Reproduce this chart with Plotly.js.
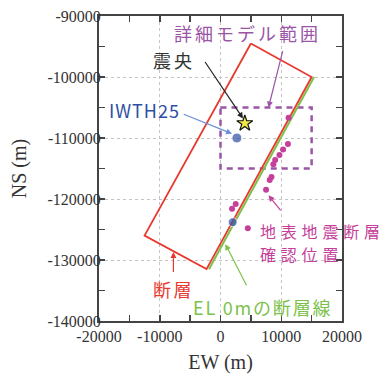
<!DOCTYPE html>
<html>
<head>
<meta charset="utf-8">
<script src="https://cdn.plot.ly/plotly-3.0.1.min.js"></script>
<style>
html,body{margin:0;padding:0;background:#fff;}
#chart{width:385px;height:374px;}
</style>
</head>
<body>
<div id="chart"></div>
<script>
// ---- data ----
const faultX = [5000, 15000, -2300, -12500, 5000];
const faultY = [-94500, -100000, -131500, -126000, -94500];

const el0X = [15400, -1900];
const el0Y = [-100000, -131500];

const modelBoxX = [0, 15000, 15000, 0, 0];
const modelBoxY = [-105000, -105000, -115000, -115000, -105000];

const ruptureX = [11200, 11100, 10300, 9700, 9000, 8700, 8400, 8100, 7500, 2500, 1900, 4500];
const ruptureY = [-106700, -111000, -111900, -112800, -113600, -114300, -116400, -116900, -118500, -120800, -121600, -124800];

const stationX = [2700, 2000];
const stationY = [-110000, -123800];

const epicenterX = [4000];
const epicenterY = [-107600];

const xTickVals = [-20000, -10000, 0, 10000, 20000];
const xTickText = ["-20000", "-10000", "0", "10000", "20000"];
const yTickVals = [-90000, -100000, -110000, -120000, -130000, -140000];
const yTickText = ["-90000", "-100000", "-110000", "-120000", "-130000", "-140000"];

const labels = {
  model: "詳細モデル範囲",
  epicenter: "震央",
  station: "IWTH25",
  rupture1: "地表地震断層",
  rupture2: "確認位置",
  fault: "断層",
  el0: "EL 0mの断層線",
  xTitle: "EW (m)",
  yTitle: "NS (m)"
};

// ---- colours ----
const RED = "#e8392f", GREEN = "#7cc24a", PURPLE = "#9a55a6", MAGENTA = "#c4409a",
      BLUE = "#2f4fa6", LBLUE = "#6d8fd6", DARK = "#333333";
const CJK = "Noto Sans CJK JP, Noto Sans, sans-serif";
const SERIF = "Liberation Serif, Times New Roman, serif";

const traces = [
  {x: modelBoxX, y: modelBoxY, mode: "lines", line: {color: PURPLE, width: 2.5, dash: "6px,5px"}, hoverinfo: "skip"},
  {x: el0X, y: el0Y, mode: "lines", line: {color: GREEN, width: 2}, hoverinfo: "skip"},
  {x: faultX, y: faultY, mode: "lines", line: {color: RED, width: 1.8}, hoverinfo: "skip"},
  {x: ruptureX, y: ruptureY, mode: "markers", marker: {color: MAGENTA, size: 6}, hoverinfo: "skip"},
  {x: stationX, y: stationY, mode: "markers", marker: {color: BLUE, size: [10, 9]}, hoverinfo: "skip"},
  {x: epicenterX, y: epicenterY, mode: "markers", marker: {symbol: "star", color: "#f3e84a", size: 12, line: {color: "#111", width: 1.2}}, hoverinfo: "skip"}
];

function arrow(hx, hy, tx, ty, color) {
  return {x: hx, y: hy, ax: tx, ay: ty, xref: "x", yref: "y", axref: "x", ayref: "y",
          text: "", showarrow: true, arrowhead: 2, arrowsize: 1, arrowwidth: 1.2, arrowcolor: color};
}
function label(x, y, text, color, size) {
  return {x: x, y: y, xref: "x", yref: "y", text: text, showarrow: false, align: "left",
          xanchor: "left", yanchor: "middle", borderpad: 0,
          font: {family: CJK, size: size, color: color}};
}

const labelDefs = [
  label(-7750, -92840, labels.model, PURPLE, 18),
  label(-11200, -97260, labels.epicenter, DARK, 18),
  label(-18480, -105450, labels.station, BLUE, 18),
  label(6280, -125200, labels.rupture1, MAGENTA, 16),
  label(6280, -129080, labels.rupture2, MAGENTA, 16),
  label(-11200, -134690, labels.fault, RED, 18),
  label(-4640, -137700, labels.el0, GREEN, 18)
];
const spacings = [3, 3, 1, 4.8, 4.8, 2.5, 1.8];

const annotations = [
  arrow(7900, -105000, 10300, -95500, PURPLE),
  arrow(3700, -106800, -2700, -97300, "#222"),
  arrow(1900, -109300, -6300, -106000, LBLUE),
  arrow(7900, -119400, 10100, -122100, MAGENTA),
  arrow(-7750, -128700, -7750, -132200, RED),
  arrow(800, -127400, 4400, -134400, GREEN)
].concat(labelDefs);
const nArrows = 6;

const axisCommon = {
  showline: true, linecolor: "#444", linewidth: 2, mirror: "ticks",
  ticks: "inside", ticklen: 6, tickwidth: 1.5, tickcolor: "#444",
  showgrid: true, gridcolor: "#c4c4c4", griddash: "dot", gridwidth: 1,
  zeroline: false, tickfont: {family: SERIF, size: 16, color: DARK},
  tickmode: "array"
};

const layout = {
  width: 385, height: 374,
  margin: {l: 99, r: 43, t: 16, b: 53},
  paper_bgcolor: "#fff", plot_bgcolor: "#fff",
  showlegend: false,
  xaxis: Object.assign({}, axisCommon, {
    range: [-20000, 20000], tickvals: xTickVals, ticktext: xTickText,
    ticklabelstandoff: 0,
    minor: {tickvals: [-15000, -5000, 5000, 15000], ticks: "inside", ticklen: 6, tickcolor: "#444", showgrid: false},
    title: {text: labels.xTitle, font: {family: SERIF, size: 20, color: DARK}, standoff: 13}
  }),
  yaxis: Object.assign({}, axisCommon, {
    range: [-140000, -90000], tickvals: yTickVals, ticktext: yTickText,
    ticklabelstandoff: -7,
    minor: {tickvals: [-95000, -105000, -115000, -125000, -135000], ticks: "inside", ticklen: 6, tickcolor: "#444", showgrid: false},
    title: {text: labels.yTitle, font: {family: SERIF, size: 20, color: DARK}, standoff: 15}
  }),
  annotations: annotations
};

Plotly.newPlot("chart", traces, layout, {displayModeBar: false, staticPlot: true}).then(function (gd) {
  const nodes = gd.querySelectorAll(".annotation");
  nodes.forEach(function (node) {
    const idx = +node.getAttribute("data-index");
    if (idx >= nArrows) {
      const t = node.querySelector("text.annotation-text");
      if (t) t.style.letterSpacing = spacings[idx - nArrows] + "px";
    }
  });
});
</script>
</body>
</html>
